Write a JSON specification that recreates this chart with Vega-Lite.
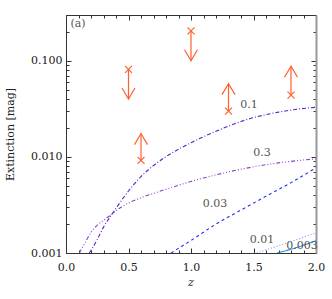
{
  "$schema": "https://vega.github.io/schema/vega-lite/v6.json",
  "width": 250,
  "height": 238,
  "autosize": {"type": "none"},
  "padding": {"left": 66, "top": 15, "right": 16, "bottom": 46},
  "background": "white",
  "config": {
    "view": {"stroke": null},
    "font": "DejaVu Serif",
    "axis": {
      "grid": false,
      "domainColor": "#333",
      "tickColor": "#333",
      "labelFont": "DejaVu Serif",
      "labelFontSize": 11,
      "labelColor": "#222",
      "titleFont": "DejaVu Serif",
      "titleFontSize": 11,
      "titleFontWeight": "normal",
      "titleColor": "#222"
    }
  },
  "datasets": {
    "curves": [
      {"model": "0.1", "redshift": 0.187, "ext": 0.001},
      {"model": "0.1", "redshift": 0.25, "ext": 0.00138},
      {"model": "0.1", "redshift": 0.3, "ext": 0.00186},
      {"model": "0.1", "redshift": 0.35, "ext": 0.00234},
      {"model": "0.1", "redshift": 0.4, "ext": 0.00292},
      {"model": "0.1", "redshift": 0.5, "ext": 0.00442},
      {"model": "0.1", "redshift": 0.6, "ext": 0.00624},
      {"model": "0.1", "redshift": 0.7, "ext": 0.00813},
      {"model": "0.1", "redshift": 0.8, "ext": 0.01007},
      {"model": "0.1", "redshift": 0.9, "ext": 0.0120},
      {"model": "0.1", "redshift": 1.0, "ext": 0.01406},
      {"model": "0.1", "redshift": 1.1, "ext": 0.01622},
      {"model": "0.1", "redshift": 1.2, "ext": 0.01849},
      {"model": "0.1", "redshift": 1.3, "ext": 0.02089},
      {"model": "0.1", "redshift": 1.4, "ext": 0.02339},
      {"model": "0.1", "redshift": 1.5, "ext": 0.02564},
      {"model": "0.1", "redshift": 1.6, "ext": 0.02754},
      {"model": "0.1", "redshift": 1.7, "ext": 0.02924},
      {"model": "0.1", "redshift": 1.8, "ext": 0.03069},
      {"model": "0.1", "redshift": 1.9, "ext": 0.03192},
      {"model": "0.1", "redshift": 2.0, "ext": 0.03289},
      {"model": "0.3", "redshift": 0.107, "ext": 0.001},
      {"model": "0.3", "redshift": 0.15, "ext": 0.00126},
      {"model": "0.3", "redshift": 0.2, "ext": 0.00164},
      {"model": "0.3", "redshift": 0.25, "ext": 0.00195},
      {"model": "0.3", "redshift": 0.3, "ext": 0.00219},
      {"model": "0.3", "redshift": 0.35, "ext": 0.00244},
      {"model": "0.3", "redshift": 0.4, "ext": 0.00275},
      {"model": "0.3", "redshift": 0.45, "ext": 0.00305},
      {"model": "0.3", "redshift": 0.5, "ext": 0.00331},
      {"model": "0.3", "redshift": 0.6, "ext": 0.00376},
      {"model": "0.3", "redshift": 0.7, "ext": 0.00417},
      {"model": "0.3", "redshift": 0.8, "ext": 0.00461},
      {"model": "0.3", "redshift": 0.9, "ext": 0.00507},
      {"model": "0.3", "redshift": 1.0, "ext": 0.00555},
      {"model": "0.3", "redshift": 1.1, "ext": 0.00603},
      {"model": "0.3", "redshift": 1.2, "ext": 0.00650},
      {"model": "0.3", "redshift": 1.3, "ext": 0.00698},
      {"model": "0.3", "redshift": 1.4, "ext": 0.00745},
      {"model": "0.3", "redshift": 1.5, "ext": 0.00789},
      {"model": "0.3", "redshift": 1.6, "ext": 0.00830},
      {"model": "0.3", "redshift": 1.7, "ext": 0.00867},
      {"model": "0.3", "redshift": 1.8, "ext": 0.00899},
      {"model": "0.3", "redshift": 1.9, "ext": 0.00929},
      {"model": "0.3", "redshift": 2.0, "ext": 0.00955},
      {"model": "0.03", "redshift": 0.84, "ext": 0.001},
      {"model": "0.03", "redshift": 1.00, "ext": 0.00135},
      {"model": "0.03", "redshift": 1.20, "ext": 0.0020},
      {"model": "0.03", "redshift": 1.40, "ext": 0.0028},
      {"model": "0.03", "redshift": 1.60, "ext": 0.0039},
      {"model": "0.03", "redshift": 1.80, "ext": 0.0054},
      {"model": "0.03", "redshift": 2.00, "ext": 0.0077},
      {"model": "0.01", "redshift": 1.525, "ext": 0.001},
      {"model": "0.01", "redshift": 1.765, "ext": 0.00127},
      {"model": "0.01", "redshift": 2.00, "ext": 0.00162},
      {"model": "0.003", "redshift": 1.69, "ext": 0.001},
      {"model": "0.003", "redshift": 1.845, "ext": 0.00114},
      {"model": "0.003", "redshift": 2.00, "ext": 0.00134}
    ],
    "obs": [
      {"redshift": 0.5, "val": 0.0814, "tip": 0.040, "dir": "down"},
      {"redshift": 0.6, "val": 0.0092, "tip": 0.0175, "dir": "up"},
      {"redshift": 1.0, "val": 0.205, "tip": 0.100, "dir": "down"},
      {"redshift": 1.3, "val": 0.030, "tip": 0.058, "dir": "up"},
      {"redshift": 1.8, "val": 0.044, "tip": 0.088, "dir": "up"}
    ],
    "labels": [
      {"redshift": 1.464, "ext": 0.0346, "text": "0.1"},
      {"redshift": 1.568, "ext": 0.0111, "text": "0.3"},
      {"redshift": 1.192, "ext": 0.00327, "text": "0.03"},
      {"redshift": 1.568, "ext": 0.00138, "text": "0.01"},
      {"redshift": 1.888, "ext": 0.00117, "text": "0.003"}
    ],
    "panel": [
      {"redshift": 0.035, "ext": 0.24, "text": "(a)"}
    ],
    "xtitle": [
      {"redshift": 1.0, "ext": 0.000487, "text": "z"}
    ]
  },
  "layer": [
    {
      "data": {"name": "curves"},
      "mark": {"type": "line", "strokeWidth": 1.1, "clip": true, "interpolate": "monotone"},
      "encoding": {
        "x": {
          "field": "redshift", "type": "quantitative",
          "scale": {"domain": [0, 2], "nice": false, "zero": false},
          "axis": {
            "orient": "bottom",
            "title": null,
            "values": [0, 0.1, 0.2, 0.3, 0.4, 0.5, 0.6, 0.7, 0.8, 0.9, 1, 1.1, 1.2, 1.3, 1.4, 1.5, 1.6, 1.7, 1.8, 1.9, 2],
            "labelExpr": "indexof([0, 0.5, 1, 1.5, 2], datum.value) >= 0 ? format(datum.value, '.1f') : ''",
            "tickSize": {"condition": {"test": "indexof([0, 0.5, 1, 1.5, 2], datum.value) >= 0", "value": -5}, "value": -3},
            "labelPadding": 13,
            "labelFlush": false,
            "labelOverlap": false
          }
        },
        "y": {
          "field": "ext", "type": "quantitative",
          "scale": {"type": "log", "domain": [0.001, 0.3], "nice": false},
          "axis": {
            "orient": "left",
            "title": "Extinction [mag]",
            "titleX": -56,
            "titleBaseline": "middle",
            "values": [0.001, 0.002, 0.003, 0.004, 0.005, 0.006, 0.007, 0.008, 0.009, 0.01, 0.02, 0.03, 0.04, 0.05, 0.06, 0.07, 0.08, 0.09, 0.1, 0.2],
            "labelExpr": "indexof([0.001, 0.01, 0.1], datum.value) >= 0 ? format(datum.value, '.3f') : ''",
            "tickSize": {"condition": {"test": "indexof([0.001, 0.01, 0.1], datum.value) >= 0", "value": -5}, "value": -3},
            "labelPadding": 9,
            "labelFlush": false,
            "labelOverlap": false
          }
        },
        "color": {
          "field": "model", "type": "nominal", "legend": null,
          "scale": {"domain": ["0.1", "0.3", "0.03", "0.01", "0.003"], "range": ["#5522CC", "#8844CC", "#2233EE", "#66A0FF", "#2288DD"]}
        },
        "strokeDash": {
          "field": "model", "type": "nominal", "legend": null,
          "scale": {"domain": ["0.1", "0.3", "0.03", "0.01", "0.003"], "range": [[4, 2, 1, 2], [4, 2, 1, 2, 1, 2, 1, 2], [3, 3], [1, 2], [1, 0]]}
        }
      }
    },
    {
      "data": {"name": "obs"},
      "mark": {"type": "rule", "color": "#FF6030", "strokeWidth": 1.2},
      "encoding": {
        "x": {"field": "redshift", "type": "quantitative", "axis": null},
        "y": {"field": "val", "type": "quantitative", "axis": null},
        "y2": {"field": "tip"}
      }
    },
    {
      "data": {"name": "obs"},
      "mark": {"type": "point", "filled": false, "color": "#FF6030", "strokeWidth": 1.2, "size": 169, "opacity": 1},
      "encoding": {
        "x": {"field": "redshift", "type": "quantitative", "axis": null},
        "y": {"field": "tip", "type": "quantitative", "axis": null},
        "shape": {
          "field": "dir", "type": "nominal", "legend": null,
          "scale": {"domain": ["up", "down"], "range": ["M-1,1.7L0,0L1,1.7", "M-1,-1.7L0,0L1,-1.7"]}
        }
      }
    },
    {
      "data": {"name": "obs"},
      "mark": {"type": "point", "filled": false, "color": "#FF6030", "strokeWidth": 1.2, "size": 49, "opacity": 1, "shape": "M-1,-1L1,1M-1,1L1,-1"},
      "encoding": {
        "x": {"field": "redshift", "type": "quantitative", "axis": null},
        "y": {"field": "val", "type": "quantitative", "axis": null}
      }
    },
    {
      "data": {"name": "panel"},
      "mark": {"type": "text", "font": "DejaVu Serif", "fontSize": 11, "color": "#555", "baseline": "middle", "align": "left"},
      "encoding": {
        "x": {"field": "redshift", "type": "quantitative", "axis": null},
        "y": {"field": "ext", "type": "quantitative", "axis": null},
        "text": {"field": "text"}
      }
    },
    {
      "data": {"name": "xtitle"},
      "mark": {"type": "text", "font": "DejaVu Serif", "fontSize": 11, "fontStyle": "italic", "color": "#222", "baseline": "middle", "align": "center"},
      "encoding": {
        "x": {"field": "redshift", "type": "quantitative", "axis": null},
        "y": {"field": "ext", "type": "quantitative", "axis": null},
        "text": {"field": "text"}
      }
    },
    {
      "data": {"name": "labels"},
      "mark": {"type": "text", "font": "DejaVu Serif", "fontSize": 11, "color": "#555", "baseline": "middle", "align": "center"},
      "encoding": {
        "x": {
          "field": "redshift", "type": "quantitative",
          "axis": {
            "orient": "top", "title": null, "labels": false,
            "values": [0, 0.1, 0.2, 0.3, 0.4, 0.5, 0.6, 0.7, 0.8, 0.9, 1, 1.1, 1.2, 1.3, 1.4, 1.5, 1.6, 1.7, 1.8, 1.9, 2],
            "tickSize": {"condition": {"test": "indexof([0, 0.5, 1, 1.5, 2], datum.value) >= 0", "value": -5}, "value": -3}
          }
        },
        "y": {
          "field": "ext", "type": "quantitative",
          "axis": {
            "orient": "right", "title": null, "labels": false,
            "domainColor": "#999", "domainWidth": 2,
            "values": [0.001, 0.002, 0.003, 0.004, 0.005, 0.006, 0.007, 0.008, 0.009, 0.01, 0.02, 0.03, 0.04, 0.05, 0.06, 0.07, 0.08, 0.09, 0.1, 0.2],
            "tickSize": {"condition": {"test": "indexof([0.001, 0.01, 0.1], datum.value) >= 0", "value": -5}, "value": -3}
          }
        },
        "text": {"field": "text"}
      }
    }
  ],
  "resolve": {"axis": {"x": "independent", "y": "independent"}}
}
